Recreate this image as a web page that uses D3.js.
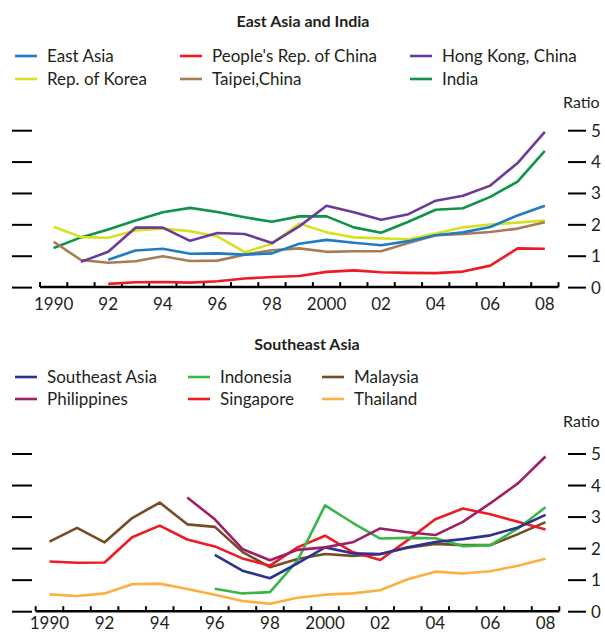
<!DOCTYPE html>
<html><head><meta charset="utf-8">
<script src="https://cdn.jsdelivr.net/npm/d3@7"></script>
<style>
body{margin:0;background:#fff}
svg{display:block}
text{font-family:Lato,"Open Sans",sans-serif;fill:#231f20}
</style>
</head><body>
<svg id="chart" width="605" height="633"></svg>
<script>
// ---- data ----
const years = d3.range(1990, 2009);
const yTickValues = [0, 1, 2, 3, 4, 5];
const xTickLabels = ["1990", "92", "94", "96", "98", "2000", "02", "04", "06", "08"];
const xLabelYears = [1990, 1992, 1994, 1996, 1998, 2000, 2002, 2004, 2006, 2008];

// East Asia and India
const topNames = ["East Asia", "People's Rep. of China", "Hong Kong, China", "Rep. of Korea", "Taipei,China", "India"];
const eastAsia = [null,null,0.89,1.18,1.24,1.08,1.09,1.05,1.09,1.40,1.52,1.43,1.35,1.48,1.67,1.76,1.93,2.30,2.61];
const prc      = [null,null,0.12,0.17,0.18,0.16,0.20,0.29,0.34,0.37,0.50,0.55,0.49,0.47,0.46,0.51,0.70,1.25,1.24];
const hongKong = [null,0.82,1.14,1.91,1.91,1.49,1.74,1.71,1.42,1.95,2.61,2.40,2.16,2.34,2.77,2.93,3.25,3.97,4.96];
const korea    = [1.94,1.61,1.59,1.82,1.88,1.80,1.63,1.13,1.40,2.04,1.76,1.60,1.57,1.54,1.72,1.92,2.01,2.07,2.14];
const taipei   = [1.46,0.88,0.79,0.84,1.00,0.85,0.86,1.05,1.19,1.25,1.14,1.16,1.16,1.42,1.67,1.71,1.77,1.88,2.08];
const india    = [1.26,1.60,1.85,2.14,2.40,2.54,2.41,2.24,2.10,2.27,2.27,1.92,1.75,2.10,2.48,2.53,2.89,3.38,4.36];
const topColors = ["#1f7cc4", "#ed1c24", "#6a3b98", "#d8e024", "#a67c52", "#0f9447"];

// Southeast Asia
const botNames = ["Southeast Asia", "Indonesia", "Malaysia", "Philippines", "Singapore", "Thailand"];
const seAsia      = [null,null,null,null,null,null,1.80,1.30,1.06,1.53,2.04,1.85,1.83,2.04,2.21,2.30,2.42,2.67,3.07];
const indonesia   = [null,null,null,null,null,null,0.73,0.58,0.62,1.62,3.37,2.82,2.32,2.34,2.33,2.08,2.11,2.64,3.31];
const malaysia    = [2.22,2.66,2.20,2.97,3.46,2.77,2.69,1.90,1.41,1.67,1.83,1.77,1.82,2.03,2.15,2.11,2.11,2.46,2.84];
const philippines = [null,null,null,null,null,3.62,2.93,1.99,1.63,1.96,2.04,2.20,2.64,2.52,2.43,2.85,3.44,4.07,4.92];
const singapore   = [1.59,1.55,1.56,2.36,2.73,2.29,2.07,1.69,1.46,2.04,2.41,1.89,1.64,2.27,2.93,3.27,3.09,2.85,2.61];
const thailand    = [0.55,0.50,0.58,0.87,0.89,0.72,0.54,0.34,0.25,0.44,0.54,0.58,0.68,1.03,1.27,1.21,1.28,1.46,1.68];
const botColors = ["#2e3192", "#39b54a", "#754c24", "#9e1f63", "#ed1c24", "#fbb040"];

const svg = d3.select("#chart");

function panel(cfg) {
  const g = svg.append("g");
  const x = d3.scaleLinear().domain([1989.5, 2008.5]).range([cfg.x0, cfg.x1]);
  const y = d3.scaleLinear().domain([0, 5]).range([cfg.yBottom, cfg.yTop]);

  // title
  g.append("text").attr("x", cfg.titleX).attr("y", cfg.titleY)
    .attr("text-anchor", "middle").style("font-weight", "700").style("font-size", "16px")
    .text(cfg.title);

  // legend
  cfg.legend.forEach((L) => {
    g.append("line").attr("x1", L.lx).attr("x2", L.lx + 22).attr("y1", L.ly).attr("y2", L.ly)
      .attr("stroke", L.color).attr("stroke-width", 2.6);
    g.append("text").attr("x", L.lx + 32).attr("y", L.ly + 6).style("font-size", "17px").text(L.name);
  });

  // Ratio label
  g.append("text").attr("x", 563).attr("y", cfg.ratioY).style("font-size", "16px").text("Ratio");

  // left ticks
  g.selectAll(".lt").data(yTickValues).enter().append("line")
    .attr("x1", 12).attr("x2", 32).attr("y1", d => y(d)).attr("y2", d => y(d))
    .attr("stroke", "#000").attr("stroke-width", 2);
  // right ticks + labels
  g.selectAll(".rt").data(yTickValues).enter().append("line")
    .attr("x1", 568).attr("x2", 586).attr("y1", d => y(d)).attr("y2", d => y(d))
    .attr("stroke", "#000").attr("stroke-width", 2);
  g.selectAll(".rl").data(yTickValues).enter().append("text")
    .attr("x", 591).attr("y", d => y(d) + 6).style("font-size", "17px").text(d => d);

  // x axis
  const axY = y(0) - 0.5;
  g.append("line").attr("x1", x(1989.5)).attr("x2", x(2008.5)).attr("y1", axY).attr("y2", axY)
    .attr("stroke", "#000").attr("stroke-width", 2.5);
  g.selectAll(".xt").data(d3.range(1989.5, 2009, 1)).enter().append("line")
    .attr("x1", d => x(d)).attr("x2", d => x(d)).attr("y1", axY).attr("y2", axY - 5)
    .attr("stroke", "#000").attr("stroke-width", 2);
  g.selectAll(".xl").data(xLabelYears).enter().append("text")
    .attr("x", d => x(d)).attr("y", cfg.xLabelY).attr("text-anchor", "middle")
    .style("font-size", "17px").text((d, i) => xTickLabels[i]);

  // lines
  const line = d3.line().defined(d => d.v != null).x(d => x(d.year)).y(d => y(d.v));
  cfg.series.forEach((s) => {
    g.append("path").datum(years.map((yr, i) => ({ year: yr, v: s.values[i] })))
      .attr("d", line).attr("fill", "none").attr("stroke", s.color)
      .attr("stroke-width", 2.6).attr("stroke-linejoin", "round");
  });
}

const topSeries = [india, korea, taipei, eastAsia, prc, hongKong];
const topIdx = [5, 3, 4, 0, 1, 2];
panel({
  title: "East  Asia and India", titleX: 303, titleY: 27,
  x0: 40, x1: 558.5, yBottom: 287.6, yTop: 130.7, ratioY: 108, xLabelY: 310,
  legend: [
    { name: topNames[0], color: topColors[0], lx: 15, ly: 56 },
    { name: topNames[1], color: topColors[1], lx: 180, ly: 56 },
    { name: topNames[2], color: topColors[2], lx: 410, ly: 56 },
    { name: topNames[3], color: topColors[3], lx: 15, ly: 79 },
    { name: topNames[4], color: topColors[4], lx: 180, ly: 79 },
    { name: topNames[5], color: topColors[5], lx: 410, ly: 79 }
  ],
  series: topIdx.map((k, j) => ({ values: topSeries[j], color: topColors[k] }))
});

const botSeries = [thailand, malaysia, singapore, indonesia, seAsia, philippines];
const botIdx = [5, 2, 4, 1, 0, 3];
panel({
  title: "Southeast Asia", titleX: 307, titleY: 350,
  x0: 35.7, x1: 559.3, yBottom: 611.7, yTop: 454, ratioY: 427, xLabelY: 629,
  legend: [
    { name: botNames[0], color: botColors[0], lx: 15, ly: 377 },
    { name: botNames[1], color: botColors[1], lx: 188, ly: 377 },
    { name: botNames[2], color: botColors[2], lx: 322, ly: 377 },
    { name: botNames[3], color: botColors[3], lx: 15, ly: 399 },
    { name: botNames[4], color: botColors[4], lx: 188, ly: 399 },
    { name: botNames[5], color: botColors[5], lx: 322, ly: 399 }
  ],
  series: botIdx.map((k, j) => ({ values: botSeries[j], color: botColors[k] }))
});
</script>
</body></html>
